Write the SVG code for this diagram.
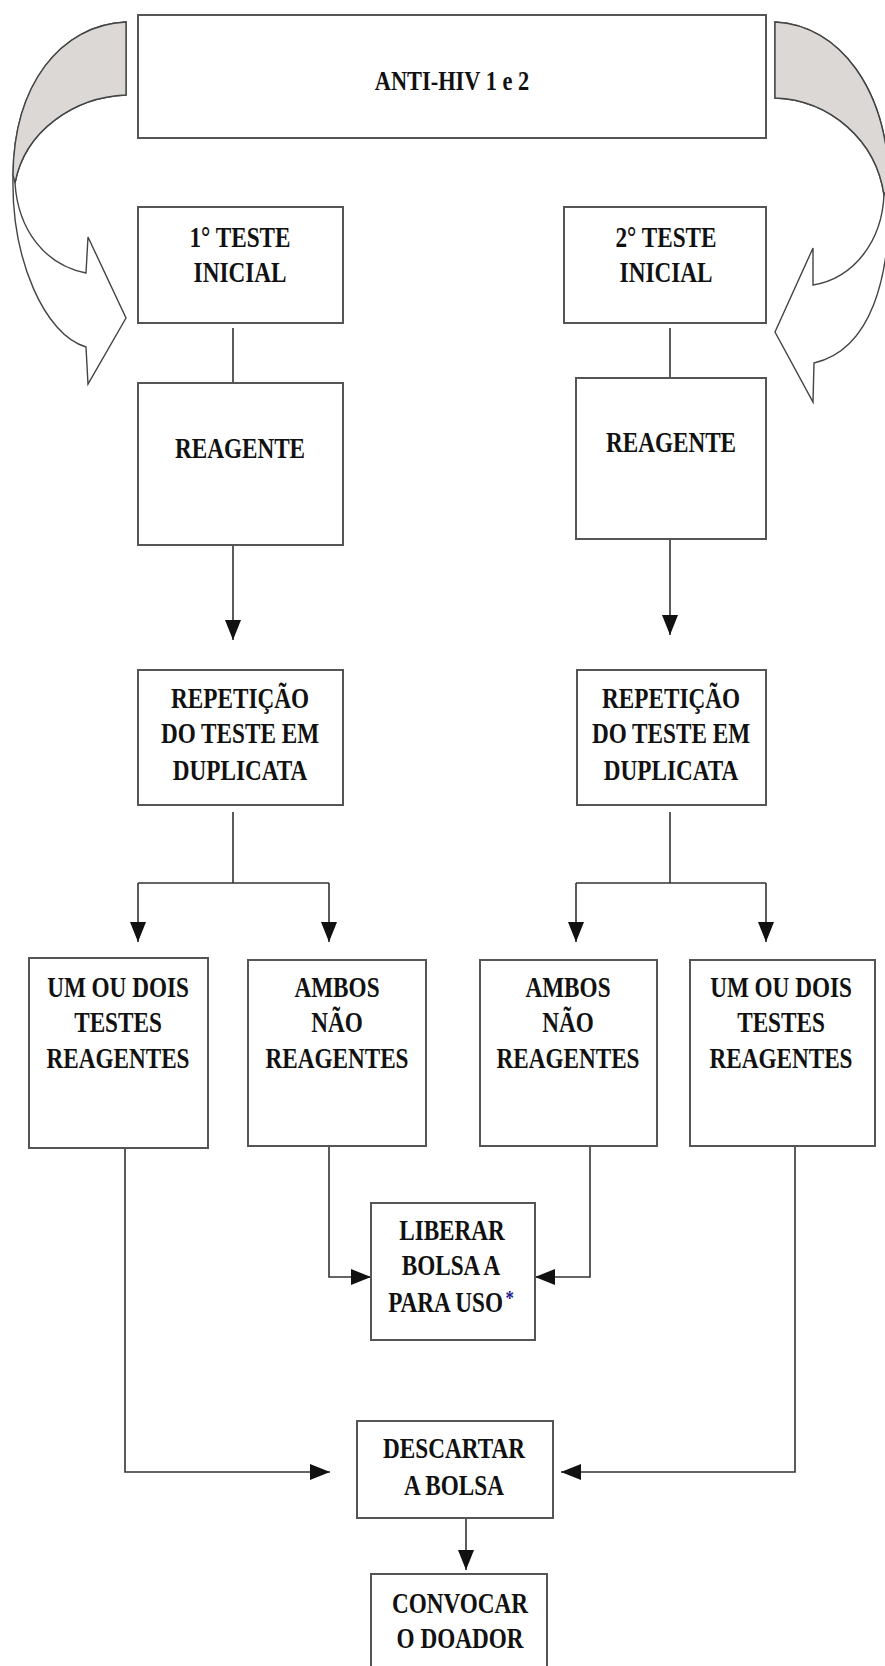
<svg xmlns="http://www.w3.org/2000/svg" width="885" height="1666" viewBox="0 0 885 1666">
<defs>
<style>
.box{fill:#fff;stroke:#555;stroke-width:2}
.t{font-family:"Liberation Serif","Times New Roman",serif;font-weight:bold;font-size:29px;text-anchor:middle;fill:#111}
.c{fill:none;stroke:#333;stroke-width:1.6}
.band{fill:#fff;stroke:#444;stroke-width:1.4;stroke-linejoin:miter}
.shade{fill:#dcd8d5;stroke:#444;stroke-width:1.4}
</style>
<marker id="ah" markerUnits="userSpaceOnUse" markerWidth="22" markerHeight="18" refX="20" refY="8" orient="auto">
<path d="M0,0 L20,8 L0,16 z" fill="#111"/>
</marker>
</defs>
<rect x="0" y="0" width="885" height="1666" fill="#fff"/>

<g id="curved-arrow-left">
<path class="band" d="M126,22 C60,25 14,85 13,175 C11,260 45,335 86,347 L88,384 L126,318 L88,237 L86,273 C45,265 18,230 15,183 C25,130 75,97 126,95 Z"/>
<path class="shade" d="M126,22 C60,25 14,85 13,175 L15,183 C25,130 75,97 126,95 Z"/>
</g>
<g id="curved-arrow-right">
<path class="band" d="M775,22 C840,25 888,90 889,185 C892,280 870,350 814,363 L813,402 L775,332 L813,248 L813,285 C855,278 882,240 884,195 C876,140 830,100 775,98 Z"/>
<path class="shade" d="M775,22 C840,25 888,90 889,185 L884,195 C876,140 830,100 775,98 Z"/>
</g>

<g id="connectors">
<line class="c" x1="233" y1="328" x2="233" y2="383"/>
<line class="c" x1="670" y1="328" x2="670" y2="378"/>
<line class="c" x1="233" y1="546" x2="233" y2="640" marker-end="url(#ah)"/>
<line class="c" x1="670" y1="539" x2="670" y2="635" marker-end="url(#ah)"/>
<line class="c" x1="233" y1="812" x2="233" y2="883"/>
<line class="c" x1="138" y1="883" x2="329" y2="883"/>
<line class="c" x1="138" y1="883" x2="138" y2="942" marker-end="url(#ah)"/>
<line class="c" x1="329" y1="883" x2="329" y2="942" marker-end="url(#ah)"/>
<line class="c" x1="670" y1="812" x2="670" y2="883"/>
<line class="c" x1="576" y1="883" x2="766" y2="883"/>
<line class="c" x1="576" y1="883" x2="576" y2="942" marker-end="url(#ah)"/>
<line class="c" x1="766" y1="883" x2="766" y2="942" marker-end="url(#ah)"/>
<polyline class="c" points="329,1146 329,1277 371,1277" marker-end="url(#ah)"/>
<polyline class="c" points="590,1146 590,1277 535,1277" marker-end="url(#ah)"/>
<polyline class="c" points="125,1148 125,1472 330,1472" marker-end="url(#ah)"/>
<polyline class="c" points="795,1146 795,1472 561,1472" marker-end="url(#ah)"/>
<line class="c" x1="466" y1="1518" x2="466" y2="1570" marker-end="url(#ah)"/>
</g>

<g id="n-anti-hiv">
<rect class="box" x="138" y="15" width="628" height="123"/>
<text class="t" style="font-size:28px" transform="translate(452,90) scale(0.8,1)">ANTI-HIV 1 e 2</text>
</g>
<g id="n-teste1">
<rect class="box" x="138" y="207" width="205" height="116"/>
<text class="t" transform="translate(240,247) scale(0.8,1)">1° TESTE</text>
<text class="t" transform="translate(240,282) scale(0.8,1)">INICIAL</text>
</g>
<g id="n-teste2">
<rect class="box" x="564" y="207" width="202" height="116"/>
<text class="t" transform="translate(666,247) scale(0.8,1)">2° TESTE</text>
<text class="t" transform="translate(666,282) scale(0.8,1)">INICIAL</text>
</g>
<g id="n-reagente1">
<rect class="box" x="138" y="383" width="205" height="162"/>
<text class="t" transform="translate(240,458) scale(0.8,1)">REAGENTE</text>
</g>
<g id="n-reagente2">
<rect class="box" x="576" y="378" width="190" height="161"/>
<text class="t" transform="translate(671,452) scale(0.8,1)">REAGENTE</text>
</g>
<g id="n-repeticao1">
<rect class="box" x="138" y="670" width="205" height="135"/>
<text class="t" transform="translate(240,708) scale(0.8,1)">REPETIÇÃO</text>
<text class="t" transform="translate(240,743) scale(0.8,1)">DO TESTE EM</text>
<text class="t" transform="translate(240,780) scale(0.8,1)">DUPLICATA</text>
</g>
<g id="n-repeticao2">
<rect class="box" x="577" y="670" width="189" height="135"/>
<text class="t" transform="translate(671,708) scale(0.8,1)">REPETIÇÃO</text>
<text class="t" transform="translate(671,743) scale(0.8,1)">DO TESTE EM</text>
<text class="t" transform="translate(671,780) scale(0.8,1)">DUPLICATA</text>
</g>
<g id="n-umoudois1">
<rect class="box" x="29" y="958" width="179" height="190"/>
<text class="t" transform="translate(118,997) scale(0.8,1)">UM OU DOIS</text>
<text class="t" transform="translate(118,1032) scale(0.8,1)">TESTES</text>
<text class="t" transform="translate(118,1068) scale(0.8,1)">REAGENTES</text>
</g>
<g id="n-ambos1">
<rect class="box" x="248" y="960" width="178" height="186"/>
<text class="t" transform="translate(337,997) scale(0.8,1)">AMBOS</text>
<text class="t" transform="translate(337,1032) scale(0.8,1)">NÃO</text>
<text class="t" transform="translate(337,1068) scale(0.8,1)">REAGENTES</text>
</g>
<g id="n-ambos2">
<rect class="box" x="480" y="960" width="177" height="186"/>
<text class="t" transform="translate(568,997) scale(0.8,1)">AMBOS</text>
<text class="t" transform="translate(568,1032) scale(0.8,1)">NÃO</text>
<text class="t" transform="translate(568,1068) scale(0.8,1)">REAGENTES</text>
</g>
<g id="n-umoudois2">
<rect class="box" x="690" y="960" width="185" height="186"/>
<text class="t" transform="translate(781,997) scale(0.8,1)">UM OU DOIS</text>
<text class="t" transform="translate(781,1032) scale(0.8,1)">TESTES</text>
<text class="t" transform="translate(781,1068) scale(0.8,1)">REAGENTES</text>
</g>
<g id="n-liberar">
<rect class="box" x="371" y="1203" width="164" height="137"/>
<text class="t" transform="translate(452,1240) scale(0.8,1)">LIBERAR</text>
<text class="t" transform="translate(451,1275) scale(0.8,1)">BOLSA A</text>
<text class="t" transform="translate(451,1312) scale(0.8,1)">PARA USO<tspan dx="3" dy="-7" style="font-size:21px;fill:#1c1c8c">*</tspan></text>
</g>
<g id="n-descartar">
<rect class="box" x="357" y="1421" width="196" height="97"/>
<text class="t" transform="translate(454,1458) scale(0.8,1)">DESCARTAR</text>
<text class="t" transform="translate(454,1495) scale(0.8,1)">A BOLSA</text>
</g>
<g id="n-convocar">
<rect class="box" x="371" y="1574" width="176" height="100"/>
<text class="t" transform="translate(460,1613) scale(0.8,1)">CONVOCAR</text>
<text class="t" transform="translate(460,1648) scale(0.8,1)">O DOADOR</text>
</g>
</svg>
